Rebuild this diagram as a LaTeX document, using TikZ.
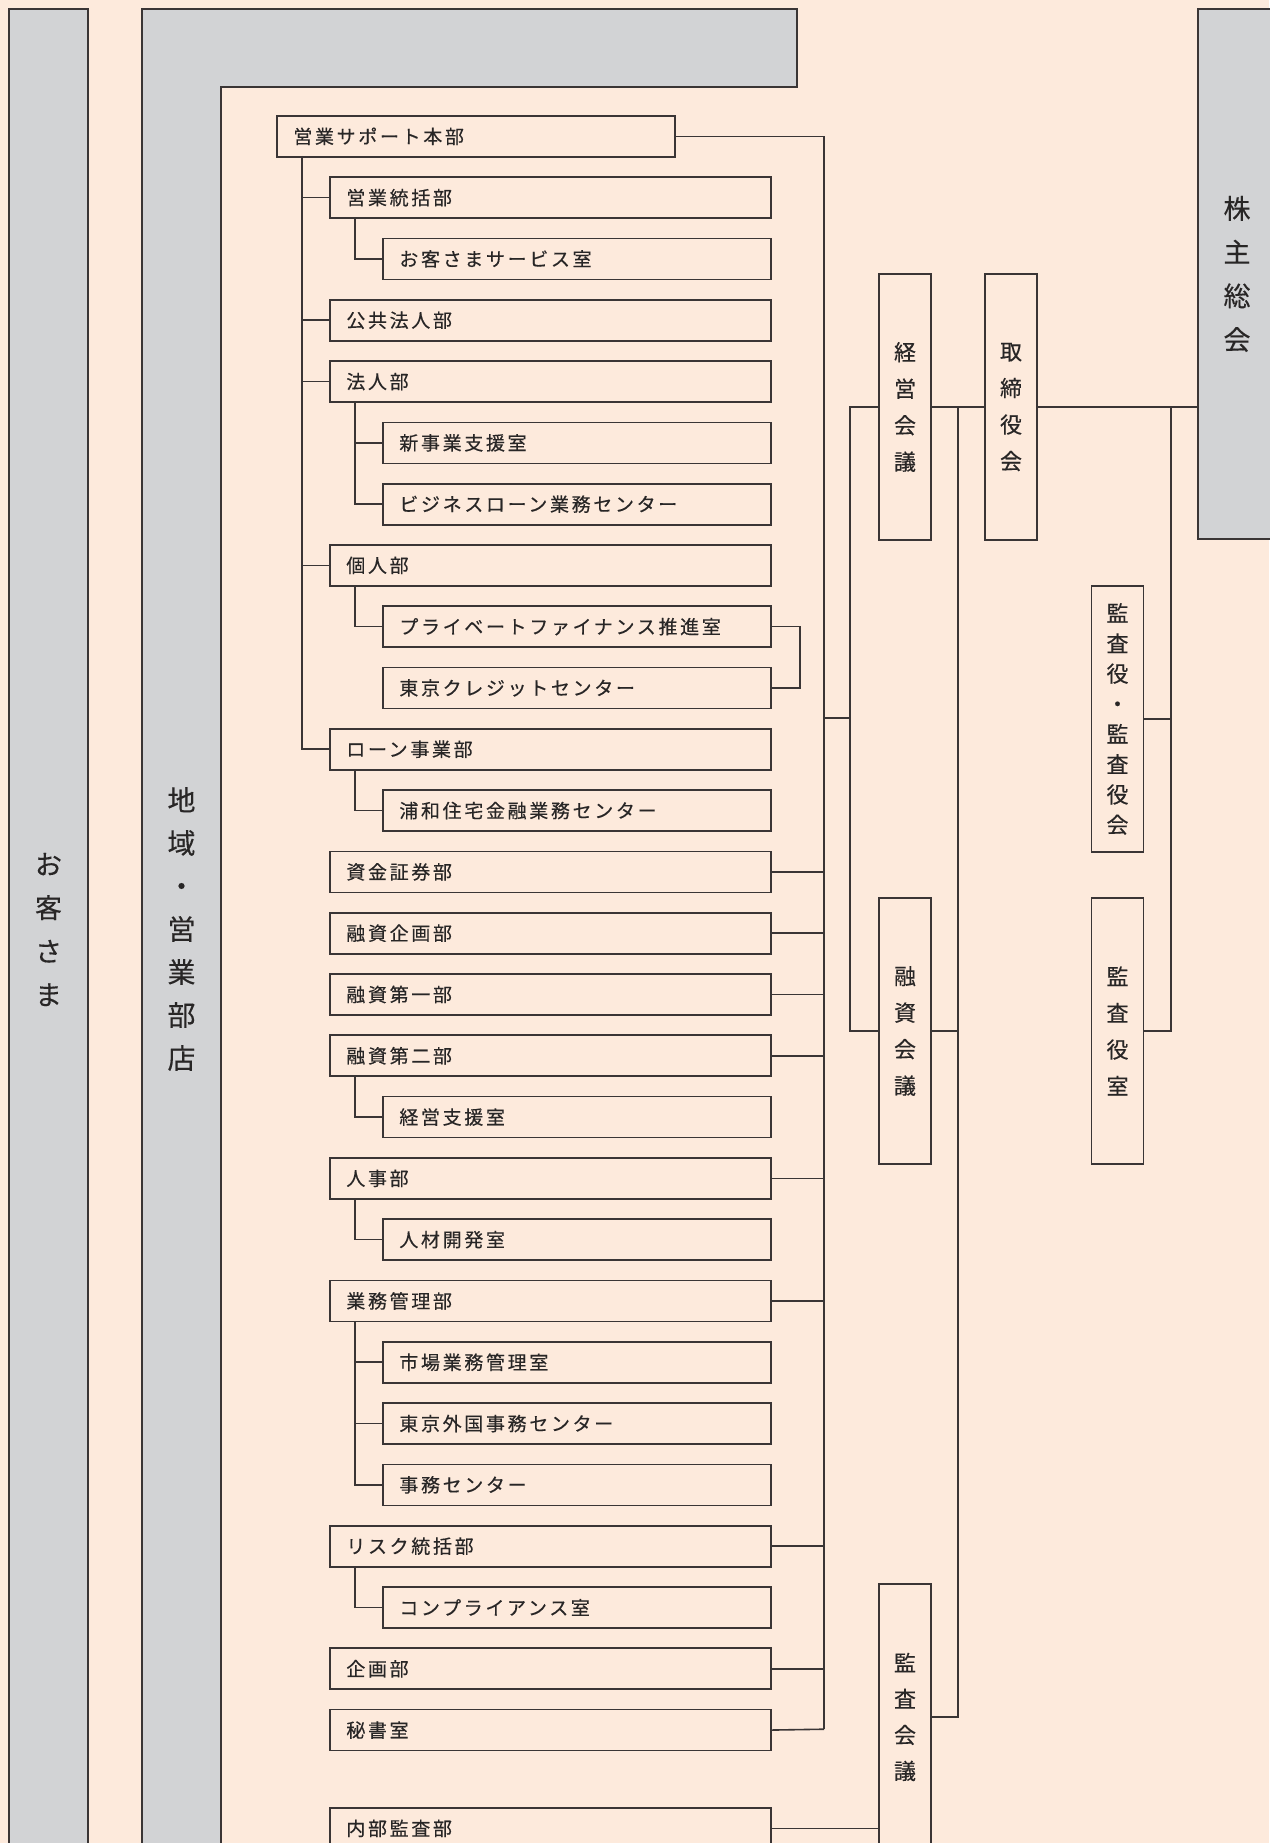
\documentclass[tikz,border=0pt]{standalone}
\usepackage{fontspec}
\setmainfont{Noto Sans CJK JP}
\newfontfamily\jp[FakeBold=0.3]{Noto Sans CJK JP}
\newfontfamily\jpls[LetterSpace=14,FakeBold=0.35]{Noto Sans CJK JP}
\definecolor{bg}{RGB}{253,234,220}
\definecolor{gbar}{RGB}{210,211,213}
\definecolor{lc}{RGB}{58,53,53}
\definecolor{tc}{RGB}{40,38,38}
\tikzset{
  dept/.style={draw=lc, line width=1.7pt, fill=bg, anchor=north west,
    minimum height=41pt, inner xsep=16.5pt, inner ysep=0pt, text width=#1,
    align=left, font=\jpls\fontsize{19}{22}\selectfont, text=tc},
  lone/.style={dept=365},
  ltwo/.style={dept=408},
  lthree/.style={dept=355},
  vbox/.style={draw=lc, line width=1.7pt, fill=bg, minimum width=52pt,
    minimum height=266pt, inner sep=0pt, align=center, text=tc},
  greybar/.style={draw=lc, line width=1.7pt, fill=gbar, inner sep=0pt,
    align=center, text=tc},
  conn/.style={draw=lc, line width=1.6pt},
}
\begin{document}
\begin{tikzpicture}[x=1pt,y=-1pt]
\useasboundingbox (0,0) rectangle (1269,1843);
\fill[bg] (0,0) rectangle (1269,1843);

% grey bars
\node[greybar, minimum width=79pt, minimum height=1841pt,
  font=\jp\fontsize{27}{43.5}\selectfont] (okyaku) at (48.5,929.5) {お\\客\\さ\\ま};
\filldraw[draw=lc, line width=1.7pt, fill=gbar]
  (142,1860) -- (142,9) -- (797,9) -- (797,87) -- (221,87) -- (221,1860);
\node[text=tc, align=center, inner sep=0pt,
  font=\jp\fontsize{28}{43}\selectfont] (chiiki) at (181.5,929) {地\\域\\・\\営\\業\\部\\店};
\node[greybar, minimum width=78pt, minimum height=530pt,
  font=\jp\fontsize{27}{43.7}\selectfont] (kabu) at (1237,274) {株\\主\\総\\会};

% departments
\node[lone] (sup) at (276,115) {営業サポート本部};
\node[ltwo]   (r1)  at (329,176.3)  {営業統括部};
\node[lthree] (r2)  at (382,237.6)  {お客さまサービス室};
\node[ltwo]   (r3)  at (329,298.9)  {公共法人部};
\node[ltwo]   (r4)  at (329,360.2)  {法人部};
\node[lthree] (r5)  at (382,421.5)  {新事業支援室};
\node[lthree] (r6)  at (382,482.8)  {ビジネスローン業務センター};
\node[ltwo]   (r7)  at (329,544.0)  {個人部};
\node[lthree] (r8)  at (382,605.3)  {プライベートファイナンス推進室};
\node[lthree] (r9)  at (382,666.6)  {東京クレジットセンター};
\node[ltwo]   (r10) at (329,727.9)  {ローン事業部};
\node[lthree] (r11) at (382,789.2)  {浦和住宅金融業務センター};
\node[ltwo]   (r12) at (329,850.5)  {資金証券部};
\node[ltwo]   (r13) at (329,911.8)  {融資企画部};
\node[ltwo]   (r14) at (329,973.1)  {融資第一部};
\node[ltwo]   (r15) at (329,1034.4) {融資第二部};
\node[lthree] (r16) at (382,1095.7) {経営支援室};
\node[ltwo]   (r17) at (329,1157.0) {人事部};
\node[lthree] (r18) at (382,1218.3) {人材開発室};
\node[ltwo]   (r19) at (329,1279.6) {業務管理部};
\node[lthree] (r20) at (382,1340.9) {市場業務管理室};
\node[lthree] (r21) at (382,1402.2) {東京外国事務センター};
\node[lthree] (r22) at (382,1463.5) {事務センター};
\node[ltwo]   (r23) at (329,1524.8) {リスク統括部};
\node[lthree] (r24) at (382,1586.1) {コンプライアンス室};
\node[ltwo]   (r25) at (329,1647.4) {企画部};
\node[ltwo]   (r26) at (329,1708.7) {秘書室};
\node[ltwo]   (r27) at (329,1807.0) {内部監査部};

% councils
\node[vbox, font=\jp\fontsize{22}{36.5}\selectfont] (keiei) at (905,407) {経\\営\\会\\議};
\node[vbox, font=\jp\fontsize{22}{36.5}\selectfont] (tori)  at (1011,407) {取\\締\\役\\会};
\node[vbox, font=\jp\fontsize{22}{36.5}\selectfont] (yushi) at (905,1031) {融\\資\\会\\議};
\node[vbox, font=\jp\fontsize{22}{30.2}\selectfont] (kansakai) at (1117.5,719) {監\\査\\役\\・\\監\\査\\役\\会};
\node[vbox, font=\jp\fontsize{22}{36.5}\selectfont] (kansashitsu) at (1117.5,1031) {監\\査\\役\\室};
\node[vbox, font=\jp\fontsize{22}{36}\selectfont] (kansakaigi) at (905,1717) {監\\査\\会\\議};

% left tree
\coordinate (tL) at (302,156);
\draw[conn] (tL) |- (r10.west);
\foreach \r in {r1,r3,r4,r7} \draw[conn] (\r.west) -- (\r.west -| tL);
\draw[conn] ([xshift=26pt]r1.south west) |- (r2.west);
\draw[conn] ([xshift=26pt]r4.south west) |- (r5.west);
\draw[conn] ([xshift=26pt]r4.south west) |- (r6.west);
\draw[conn] ([xshift=26pt]r7.south west) |- (r8.west);
\draw[conn] (r8.east) -- ++(28,0) |- (r9.east);
\draw[conn] ([xshift=26pt]r10.south west) |- (r11.west);
\draw[conn] ([xshift=26pt]r15.south west) |- (r16.west);
\draw[conn] ([xshift=26pt]r17.south west) |- (r18.west);
\draw[conn] ([xshift=26pt]r19.south west) |- (r20.west);
\draw[conn] ([xshift=26pt]r19.south west) |- (r21.west);
\draw[conn] ([xshift=26pt]r19.south west) |- (r22.west);
\draw[conn] ([xshift=26pt]r23.south west) |- (r24.west);

% right trunk
\coordinate (tR) at (824,1729.2);
\draw[conn] (sup.east) -| (tR);
\draw[conn] (tR) -- (r26.east);
\foreach \r in {r12,r13,r14,r15,r17,r19,r23,r25} \draw[conn] (\r.east) -- (\r.east -| tR);

% trunk to councils
\coordinate (jt) at (824,718);
\coordinate (jb) at (851,718);
\draw[conn] (jt) -- (jb);
\draw[conn] (keiei.west) -- ++(-28,0) |- (yushi.west);
\draw[conn] (yushi.east) -- ++(27,0);
\draw[conn] (keiei.east) -- (tori.west);
\draw[conn] (tori.east) -- (tori.east -| kabu.west);
\coordinate (v1) at (958,407);
\draw[conn] (v1) |- (kansakaigi.east);
\coordinate (v2) at (1171,407);
\draw[conn] (v2) |- (kansashitsu.east);
\draw[conn] (kansakai.east) -- (kansakai.east -| v2);
\draw[conn] (r27.east) -- (kansakaigi.west |- r27.east);
\end{tikzpicture}
\end{document}
